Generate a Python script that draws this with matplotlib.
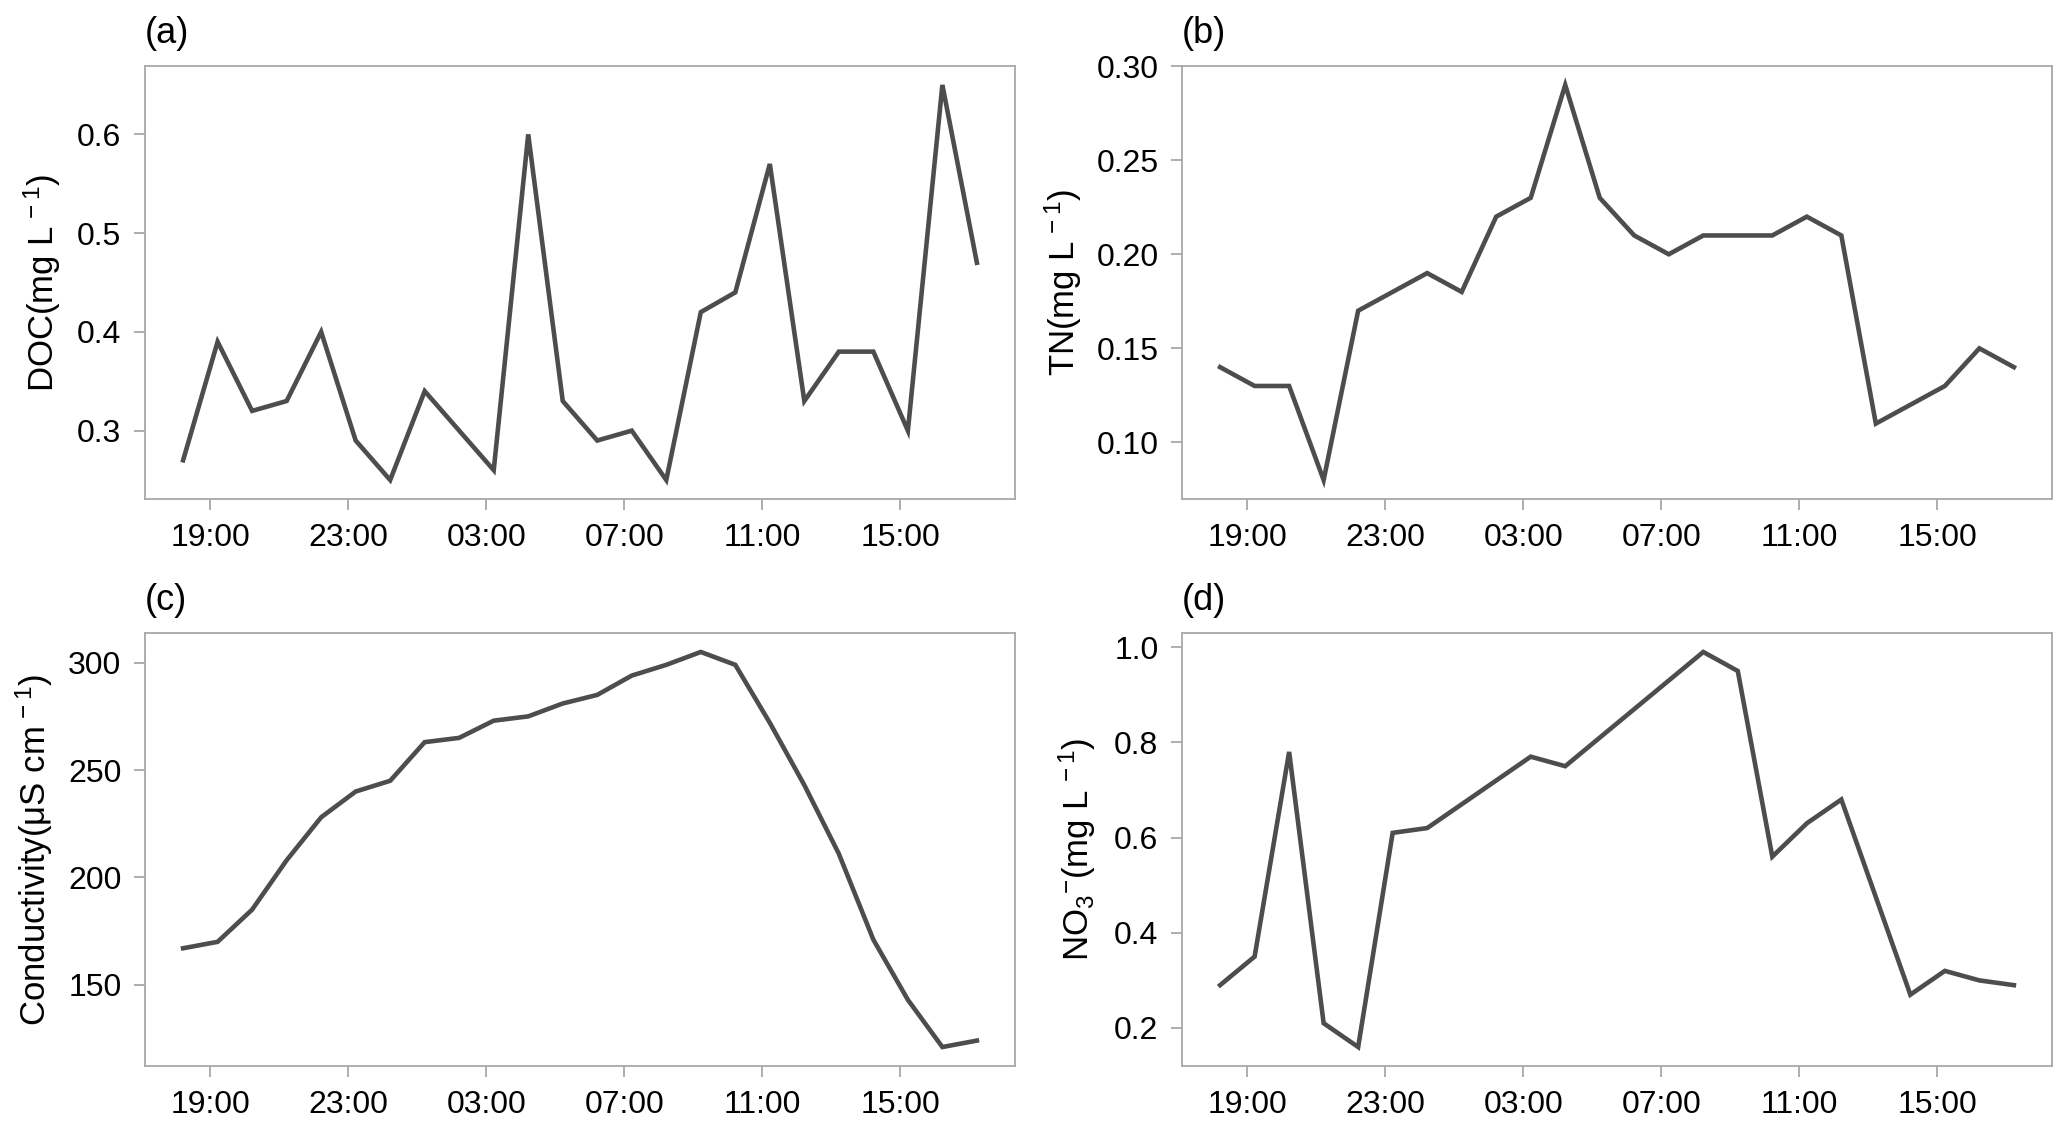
import numpy as np
import pandas as pd
import matplotlib
matplotlib.use('Agg')
import matplotlib.pyplot as plt
import matplotlib.dates as mdates

plt.rcParams['font.family'] = ['Liberation Sans', 'DejaVu Sans']
plt.rcParams['mathtext.fontset'] = 'custom'
plt.rcParams['mathtext.rm'] = 'Liberation Sans'
plt.rcParams['mathtext.it'] = 'Liberation Sans:italic'
plt.rcParams['mathtext.default'] = 'regular'

# sampling times (hourly, evening of day 1 to afternoon of day 2)
times = ['18:13', '19:13', '20:13', '21:13', '22:13', '23:13', '00:13', '01:13',
         '02:13', '03:13', '04:13', '05:13', '06:13', '07:13', '08:13', '09:13',
         '10:13', '11:13', '12:13', '13:13', '14:13', '15:13', '16:13', '17:13']

doc = [0.27, 0.39, 0.32, 0.33, 0.40, 0.29, 0.25, 0.34, 0.30, 0.26, 0.60, 0.33,
       0.29, 0.30, 0.25, 0.42, 0.44, 0.57, 0.33, 0.38, 0.38, 0.30, 0.65, 0.47]
tn = [0.14, 0.13, 0.13, 0.08, 0.17, 0.18, 0.19, 0.18, 0.22, 0.23, 0.29, 0.23,
      0.21, 0.20, 0.21, 0.21, 0.21, 0.22, 0.21, 0.11, 0.12, 0.13, 0.15, 0.14]
cond = [167, 170, 185, 208, 228, 240, 245, 263, 265, 273, 275, 281,
        285, 294, 299, 305, 299, 272, 243, 211, 171, 143, 121, 124]
no3 = [0.29, 0.35, 0.78, 0.21, 0.16, 0.61, 0.62, 0.67, 0.72, 0.77, 0.75, 0.81,
       0.87, 0.93, 0.99, 0.95, 0.56, 0.63, 0.68, 0.475, 0.27, 0.32, 0.30, 0.29]

# build timestamps, rolling over to the next day after midnight
stamps = []
day = pd.Timestamp('2019-07-01')
prev = -1
for t in times:
    h, m = map(int, t.split(':'))
    if h < prev:
        day = day + pd.Timedelta(days=1)
    prev = h
    stamps.append(day + pd.Timedelta(hours=h, minutes=m))
stamps = pd.to_datetime(stamps)

panels = [
    ('(a)', doc, r'DOC(mg L$^{\,-1}$)', [0.3, 0.4, 0.5, 0.6], '{:.1f}', -0.094),
    ('(b)', tn, r'TN(mg L$^{\,-1}$)', [0.10, 0.15, 0.20, 0.25, 0.30], '{:.2f}', -0.113),
    ('(c)', cond, r'Conductivity($\mu$S cm$^{\,-1}$)', [150, 200, 250, 300], '{:d}', -0.104),
    ('(d)', no3, r'NO$_3{}^{-}$(mg L$^{\,-1}$)', [0.2, 0.4, 0.6, 0.8, 1.0], '{:.1f}', -0.097),
]

W, H = 2067, 1128
boxes = [(145, 66), (1182, 66), (145, 633), (1182, 633)]
aw, ah = 870, 433

fig = plt.figure(figsize=(W / 100, H / 100), dpi=100)
line_col = '#4d4d4d'
frame_col = '#a8a8a8'

for (tag, vals, ylab, yt, fmt, lx), (x0, y0) in zip(panels, boxes):
    ax = fig.add_axes([x0 / W, 1 - (y0 + ah) / H, aw / W, ah / H])
    ax.plot(stamps, vals, color=line_col, lw=3.3, solid_joinstyle='miter')
    ax.margins(x=0.048, y=0.048)
    ax.xaxis.set_major_locator(mdates.HourLocator(byhour=[19, 23, 3, 7, 11, 15]))
    ax.xaxis.set_major_formatter(mdates.DateFormatter('%H:%M'))
    ax.set_yticks(yt, [fmt.format(v) for v in yt])
    for s in ax.spines.values():
        s.set_color(frame_col)
        s.set_linewidth(1.3)
    ax.tick_params(direction='out', length=8, width=1.3, color=frame_col,
                   labelsize=23, pad=9, labelcolor='black')
    ax.set_ylabel(ylab, fontsize=25)
    ax.yaxis.set_label_coords(lx, 0.5)
    ax.annotate(tag, xy=(0, 1), xycoords='axes fraction', xytext=(0, 11),
                textcoords='offset points', ha='left', va='bottom', fontsize=26)

fig.savefig('out.png', dpi=100)
